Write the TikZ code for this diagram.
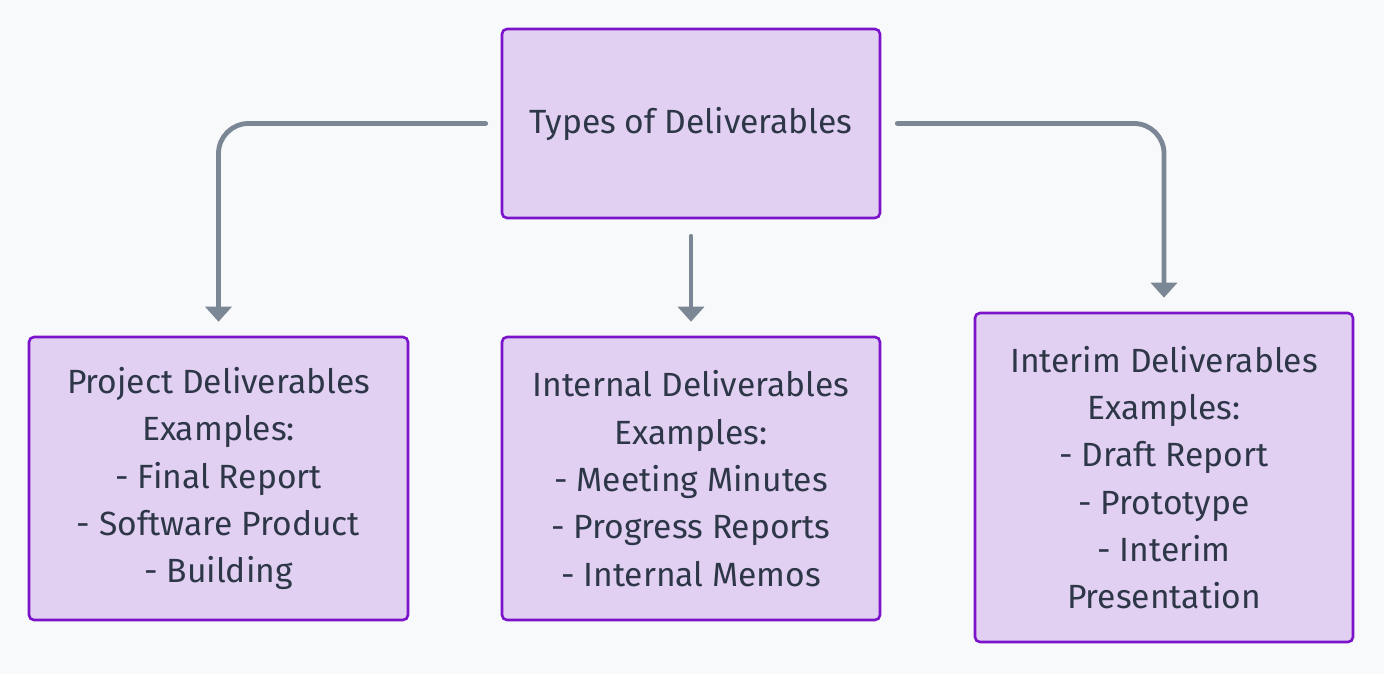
\documentclass[tikz,border=0pt]{standalone}
\usepackage{fontspec}
\setmainfont{Fira Sans}
\usetikzlibrary{arrows.meta}
\definecolor{bg}{HTML}{F8F9FA}
\definecolor{boxfill}{HTML}{E2D0F3}
\definecolor{boxline}{HTML}{7A13C9}
\definecolor{arrowc}{HTML}{7B8794}
\definecolor{txt}{HTML}{2D3748}
\begin{document}
\begin{tikzpicture}[x=1pt,y=-1pt,
  box/.style={draw=boxline, fill=boxfill, line width=2.6pt, rounded corners=5pt,
    text=txt, align=center, inner sep=0pt, font=\fontsize{33.6}{47.3}\selectfont},
  conn/.style={draw=arrowc, line width=4.8pt, line cap=round, rounded corners=30pt,
    -{Triangle[width=26pt,length=15pt]}}
]
\fill[bg] (0,0) rectangle (1384,674);
\useasboundingbox (0,0) rectangle (1384,674);
\node[box, minimum width=378pt, minimum height=189pt] (top) at (691,123.5) {Types of Deliverables};
\node[box, minimum width=379pt, minimum height=283pt] (left) at (218.5,478.5)
  {Project Deliverables\\Examples:\\- Final Report\\- Software Product\\- Building};
\node[box, minimum width=378pt, minimum height=283pt] (mid) at (691,478.5)
  {Internal Deliverables\\Examples:\\- Meeting Minutes\\- Progress Reports\\- Internal Memos};
\node[box, minimum width=378pt, minimum height=329pt] (right) at (1164,477.5)
  {Interim Deliverables\\Examples:\\- Draft Report\\- Prototype\\- Interim\\Presentation};
\draw[conn, shorten <=15pt, shorten >=14pt] (top.west) -| (left.north);
\draw[conn, shorten <=17pt, shorten >=14pt] (top.south) -- (mid.north);
\draw[conn, shorten <=16pt, shorten >=14pt] (top.east) -| (right.north);
\end{tikzpicture}
\end{document}
